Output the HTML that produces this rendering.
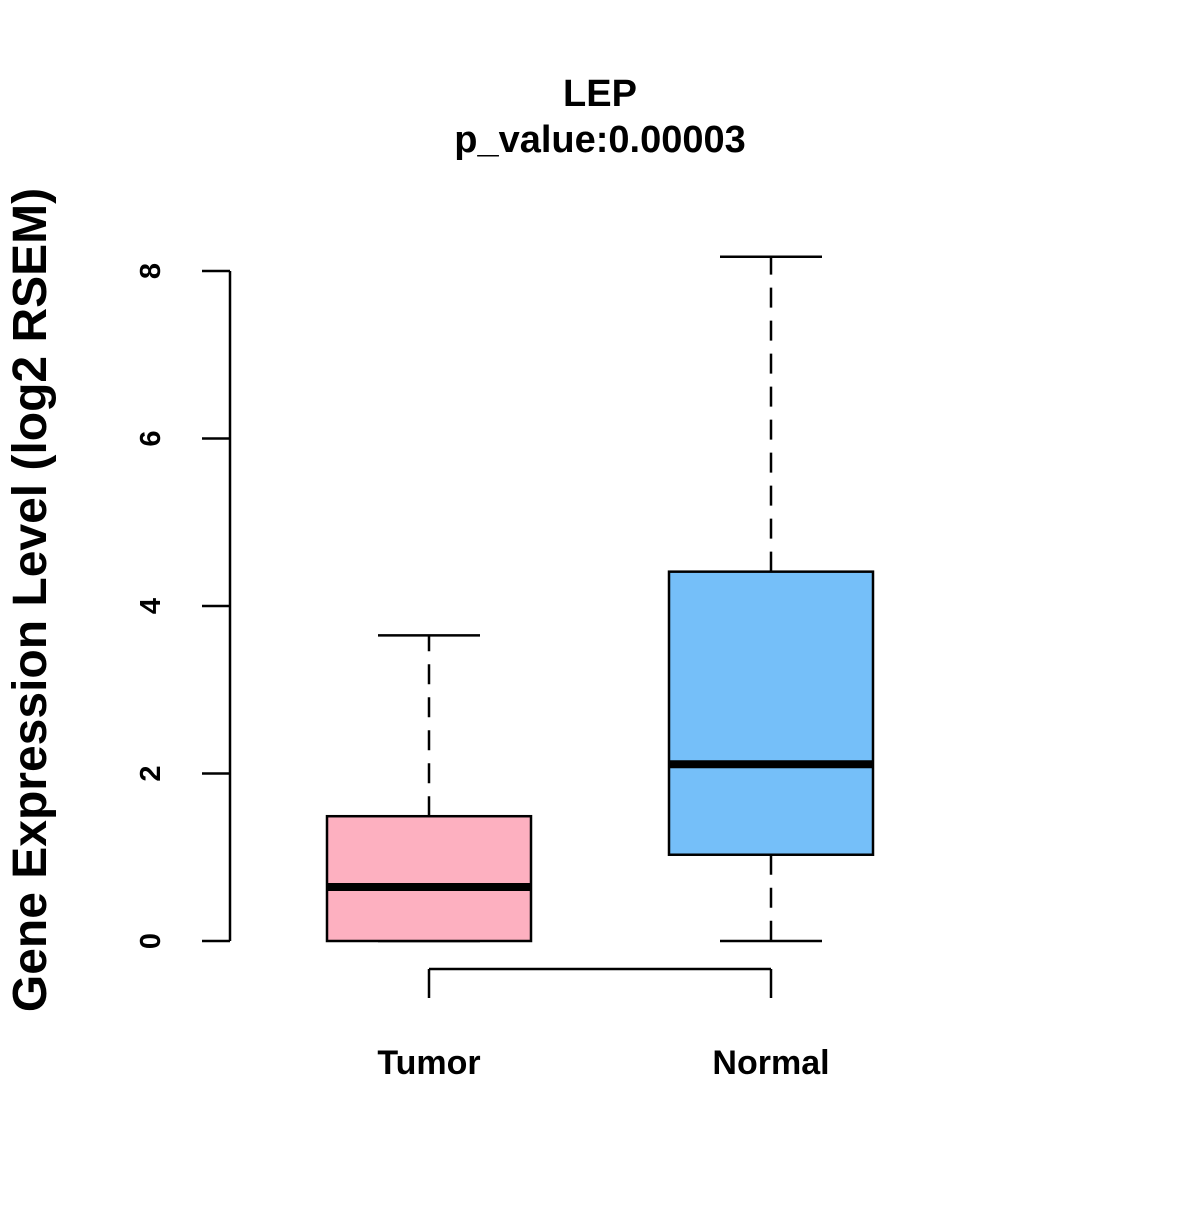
<!DOCTYPE html>
<html><head><meta charset="utf-8"><style>
html,body{margin:0;padding:0;background:#fff}
svg text{font-family:"Liberation Sans",Arial,sans-serif;font-weight:bold;fill:#000}
</style></head><body>
<svg id="chart" width="1200" height="1200" viewBox="0 0 1200 1200" xmlns="http://www.w3.org/2000/svg">
<text x="600" y="106" font-size="38" text-anchor="middle">LEP</text>
<text x="600" y="152" font-size="38" text-anchor="middle">p_value:0.00003</text>
<text transform="translate(46,600) rotate(-90)" font-size="48" text-anchor="middle">Gene Expression Level (log2 RSEM)</text>
<g id="marks"></g>
</svg>
<script>
const categories = ["Tumor", "Normal"];
const q1Values = [0, 1.03];
const q3Values = [1.49, 4.41];
const medianValues = [0.645, 2.11];
const whiskerLow = [0, 0];
const whiskerHigh = [3.65, 8.17];
const yTicks = [0, 2, 4, 6, 8];
const fills = ["#FDB0C0", "#75BFF9"];

const NS = "http://www.w3.org/2000/svg";
const g = document.getElementById("marks");
const y = v => 941 - v * 83.75;
const x = i => 429 + i * 342;
function mk(tag, attrs) {
  const e = document.createElementNS(NS, tag);
  for (const k in attrs) e.setAttribute(k, attrs[k]);
  g.appendChild(e);
  return e;
}
let ax = mk("line", {x1:230, x2:230, y1:y(yTicks[yTicks.length-1]), y2:y(yTicks[0]), stroke:"#000", "stroke-width":2.5});


yTicks.forEach(t => {
  const tk = mk("line", {x1:202, x2:230, y1:y(t), y2:y(t), stroke:"#000", "stroke-width":2.5});
  
  
  const lb = mk("text", {transform:`translate(160,${y(t)}) rotate(-90)`, "font-size":29, "text-anchor":"middle"});
  lb.textContent = t;
  
  
});
let xa = mk("line", {x1:x(0), x2:x(categories.length-1), y1:969, y2:969, stroke:"#000", "stroke-width":2.5});


categories.forEach((c, i) => {
  const cx = x(i);
  const tk = mk("line", {x1:cx, x2:cx, y1:969, y2:998, stroke:"#000", "stroke-width":2.5});
  
  
  const lb = mk("text", {x:cx, y:1074, "font-size":34, "text-anchor":"middle"});
  lb.textContent = c;
  
  
  const w1 = mk("line", {x1:cx, x2:cx, y1:y(q3Values[i]), y2:y(whiskerHigh[i]), stroke:"#000", "stroke-width":2.5, "stroke-dasharray":"20,13"});
  
  
  const w2 = mk("line", {x1:cx, x2:cx, y1:y(q1Values[i]), y2:y(whiskerLow[i]), stroke:"#000", "stroke-width":2.5, "stroke-dasharray":"20,13"});
  
  
  const c1 = mk("line", {x1:cx-51, x2:cx+51, y1:y(whiskerHigh[i]), y2:y(whiskerHigh[i]), stroke:"#000", "stroke-width":2.5});
  
  
  const c2 = mk("line", {x1:cx-51, x2:cx+51, y1:y(whiskerLow[i]), y2:y(whiskerLow[i]), stroke:"#000", "stroke-width":2.5});
  
  
  const box = mk("rect", {x:cx-102, y:y(q3Values[i]), width:204, height:y(q1Values[i])-y(q3Values[i]), fill:fills[i], stroke:"#000", "stroke-width":2.5});
  
  
  const md = mk("line", {x1:cx-102, x2:cx+102, y1:y(medianValues[i]), y2:y(medianValues[i]), stroke:"#000", "stroke-width":8});
  
  
});
</script>
</body></html>
